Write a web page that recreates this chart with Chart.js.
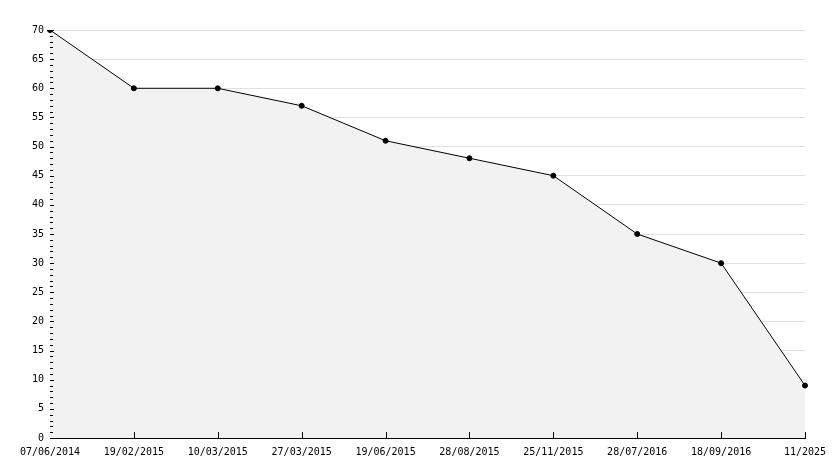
<!DOCTYPE html>
<html>
<head>
<meta charset="utf-8">
<script src="https://cdn.jsdelivr.net/npm/chart.js@4/dist/chart.umd.min.js"></script>
<style>
  body { margin: 0; background: #fff; }
  #wrap { width: 834px; height: 468px; }
</style>
</head>
<body>
<div id="wrap"><canvas id="c"></canvas></div>
<script>
// data
const labels = ["07/06/2014", "19/02/2015", "10/03/2015", "27/03/2015", "19/06/2015",
                "28/08/2015", "25/11/2015", "28/07/2016", "18/09/2016", "11/2025"];
const values = [70, 60, 60, 57, 51, 48, 45, 35, 30, 9];

// minor ticks on the y axis, every 1 unit, and inward ticks on the x axis
const axisTicks = {
    id: "axisTicks",
    afterDatasetsDraw(chart) {
        const ctx = chart.ctx;
        const y = chart.scales.y;
        const x = chart.scales.x;
        const a = chart.chartArea;
        ctx.save();
        ctx.strokeStyle = "#000";
        ctx.lineWidth = 1;
        ctx.beginPath();
        for (let v = 0; v <= 70; v++) {
            const py = Math.round(y.getPixelForValue(v)) + 0.5;
            const len = v % 5 === 0 ? 4 : 3;
            ctx.moveTo(a.left, py);
            ctx.lineTo(a.left + len, py);
        }
        for (let i = 1; i < labels.length; i++) {
            const px = Math.round(x.getPixelForValue(i)) + 0.5;
            ctx.moveTo(px, a.bottom);
            ctx.lineTo(px, a.bottom - 6);
        }
        ctx.stroke();
        ctx.restore();
    }
};

new Chart(document.getElementById("c"), {
    type: "line",
    data: {
        labels: labels,
        datasets: [{
            data: values,
            borderColor: "#000",
            borderWidth: 1,
            backgroundColor: "#f2f2f2",
            fill: "origin",
            tension: 0,
            pointStyle: "circle",
            pointRadius: 2.5,
            pointBackgroundColor: "#000",
            pointBorderColor: "#000"
        }]
    },
    options: {
        responsive: true,
        maintainAspectRatio: false,
        animation: false,
        layout: { padding: { top: 30, right: 29, left: 4, bottom: 10 } },
        plugins: { legend: { display: false }, tooltip: { enabled: false } },
        scales: {
            x: {
                offset: false,
                grid: { display: false },
                border: { color: "#000" },
                ticks: {
                    color: "#000", maxRotation: 0, autoSkip: false, padding: 0,
                    font: { family: "DejaVu Sans Mono", size: 10 }
                }
            },
            y: {
                min: 0, max: 70,
                afterFit(s) { s.width = 46; },
                grid: { color: "#e0e0e0", drawTicks: false },
                border: { color: "#000" },
                ticks: {
                    stepSize: 5, color: "#000", padding: 6,
                    font: { family: "DejaVu Sans Mono", size: 10 }
                }
            }
        }
    },
    plugins: [axisTicks]
});
</script>
</body>
</html>
